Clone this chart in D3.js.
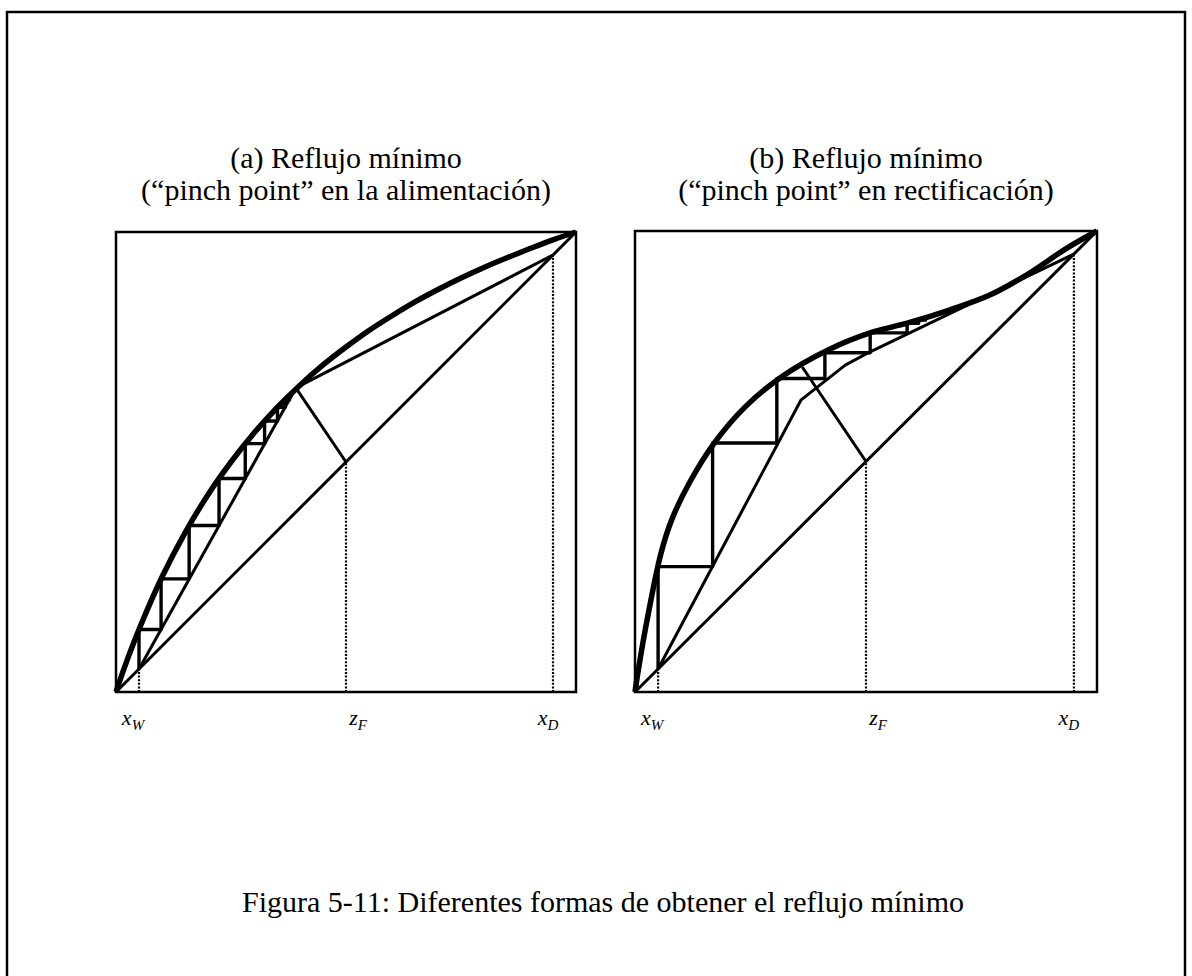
<!DOCTYPE html>
<html>
<head>
<meta charset="utf-8">
<script src="https://cdn.jsdelivr.net/npm/d3@7"></script>
<style>
  body { margin: 0; background: #fff; }
  svg { display: block; }
  text { font-family: "Liberation Serif", "Times New Roman", serif; fill: #000; }
</style>
</head>
<body>
<div id="chart"></div>
<script>
// compositions marked on the x axis
const xW = 0.05;
const zF = 0.5;
const xD = 0.95;

// (a) equilibrium curve, pinch at the feed
const eqAx = [0, 0.02, 0.05, 0.1, 0.15, 0.2, 0.25, 0.3, 0.35, 0.4, 0.45, 0.5, 0.55, 0.6, 0.65, 0.7, 0.75, 0.8, 0.85, 0.9, 0.95, 1];
const eqAy = [0, 0.058, 0.136, 0.25, 0.346, 0.429, 0.5, 0.563, 0.618, 0.667, 0.711, 0.75, 0.786, 0.818, 0.848, 0.875, 0.9, 0.923, 0.944, 0.964, 0.983, 1];
const pinchA = [0.391, 0.661];
const stairsA = [[0.05, 0.05], [0.05, 0.136], [0.098, 0.136], [0.098, 0.246], [0.159, 0.246], [0.159, 0.362],
  [0.224, 0.362], [0.224, 0.464], [0.281, 0.464], [0.281, 0.540], [0.323, 0.540], [0.323, 0.589],
  [0.351, 0.589], [0.351, 0.619], [0.368, 0.619], [0.368, 0.635], [0.377, 0.635], [0.377, 0.645], [0.382, 0.645]];

// (b) equilibrium curve, pinch in the rectifying section
const eqBx = [0, 0.006, 0.022, 0.056, 0.08, 0.119, 0.173, 0.238, 0.316, 0.418, 0.515, 0.589, 0.682, 0.768, 0.848, 0.935, 1];
const eqBy = [0, 0.04, 0.134, 0.300, 0.375, 0.456, 0.542, 0.618, 0.683, 0.742, 0.781, 0.800, 0.829, 0.861, 0.905, 0.963, 1];
const opB = [[0.05, 0.05], [0.359, 0.633], [0.455, 0.709], [0.509, 0.738], [0.95, 0.95]];
const qEndB = [0.362, 0.705];
const stairsB = [[0.05, 0.05], [0.05, 0.272], [0.168, 0.272], [0.168, 0.540], [0.307, 0.540], [0.307, 0.680],
  [0.411, 0.680], [0.411, 0.736], [0.509, 0.736], [0.509, 0.779], [0.589, 0.779], [0.589, 0.800],
  [0.614, 0.800], [0.614, 0.807], [0.632, 0.807]];

const titlesA = ['(a) Reflujo mínimo', '(“pinch point” en la alimentación)'];
const titlesB = ['(b) Reflujo mínimo', '(“pinch point” en rectificación)'];
const caption = 'Figura 5-11: Diferentes formas de obtener el reflujo mínimo';

let svg = d3.select('#chart').append('svg')
  .attr('width', 1192)
  .attr('height', 976);

// outer frame
svg.append('rect')
  .attr('x', 7).attr('y', 12)
  .attr('width', 1178).attr('height', 990)
  .attr('fill', 'none').attr('stroke', '#000').attr('stroke-width', 2.5);

function drawPanel(left, right, top, bottom, p) {
  let x = d3.scaleLinear().domain([0, 1]).range([left, right]);
  let y = d3.scaleLinear().domain([0, 1]).range([bottom, top]);
  let g = svg.append('g');
  let path = (pts, w, curve) => g.append('path')
    .attr('d', d3.line().x(d => x(d[0])).y(d => y(d[1])).curve(curve || d3.curveLinear)(pts))
    .attr('fill', 'none').attr('stroke', '#000')
    .attr('stroke-width', w).attr('stroke-linejoin', 'round');

  // box
  g.append('rect')
    .attr('x', x(0)).attr('y', y(1))
    .attr('width', x(1) - x(0)).attr('height', y(0) - y(1))
    .attr('fill', 'none').attr('stroke', '#000').attr('stroke-width', 2.5);

  // dotted verticals
  [xW, zF, xD].forEach(v => {
    g.append('line')
      .attr('x1', x(v)).attr('x2', x(v))
      .attr('y1', y(0)).attr('y2', y(v))
      .attr('stroke', '#000').attr('stroke-width', 2.2)
      .attr('stroke-dasharray', '2,1.6');
  });

  // diagonal
  path([[0, 0], [1, 1]], 3);
  // operating lines and q-line
  p.lines.forEach(l => path(l, 3));
  // stairs
  path(p.stairs, 3.4);
  // equilibrium curve
  path(d3.zip(p.eqx, p.eqy), 5.5, d3.curveCatmullRom.alpha(0.5));

  // axis labels
  [['x', 'W', xW, -6], ['z', 'F', zF, 12], ['x', 'D', xD, -5]].forEach(([a, b, v, dx]) => {
    let t = g.append('text')
      .attr('x', x(v) + dx).attr('y', 725)
      .attr('text-anchor', 'middle')
      .attr('font-style', 'italic')
      .attr('font-size', 22);
    t.append('tspan').text(a);
    t.append('tspan').attr('font-size', 15).attr('dy', 5).text(b);
  });

  // titles
  p.titles.forEach((s, i) => {
    svg.append('text')
      .attr('x', (x(0) + x(1)) / 2)
      .attr('y', 168 + i * 32)
      .attr('text-anchor', 'middle')
      .attr('font-size', 30)
      .text(s);
  });
}

drawPanel(116, 576, 232, 692, {
  eqx: eqAx, eqy: eqAy, stairs: stairsA, titles: titlesA,
  lines: [[[xW, xW], pinchA], [pinchA, [xD, xD]], [[zF, zF], pinchA]]
});

drawPanel(635, 1097, 231, 692, {
  eqx: eqBx, eqy: eqBy, stairs: stairsB, titles: titlesB,
  lines: [opB, [[zF, zF], qEndB]]
});

svg.append('text')
  .attr('x', 603).attr('y', 912)
  .attr('text-anchor', 'middle')
  .attr('font-size', 30)
  .text(caption);
</script>
</body>
</html>
